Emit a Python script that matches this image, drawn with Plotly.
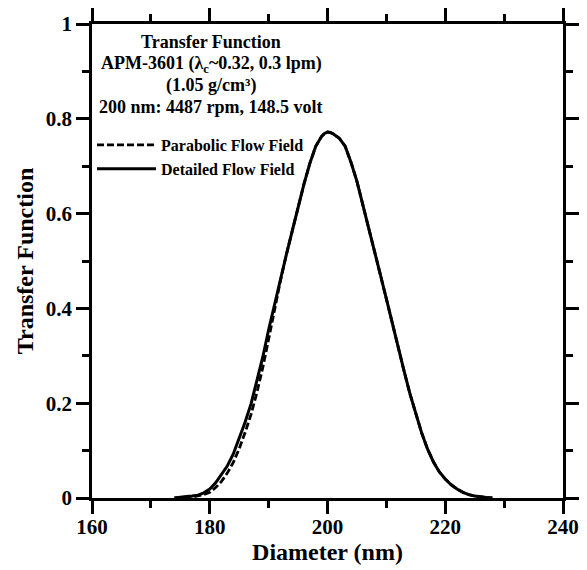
import plotly.graph_objects as go

# Diameter (nm)
diameter = [174, 175, 176, 177, 178, 179, 180, 181, 182, 183, 184, 185, 186, 187, 188,
            189, 190, 191, 192, 193, 194, 195, 196, 197, 198, 199, 199.5, 200, 200.5, 201,
            202, 203, 204, 205, 206, 207, 208, 209, 210, 211, 212, 213, 214, 215, 216,
            217, 218, 219, 220, 221, 222, 223, 224, 225, 226, 227, 228]

# Detailed flow field (solid)
detailed = [0.0, 0.002, 0.003, 0.004, 0.006, 0.011, 0.019, 0.032, 0.049, 0.068, 0.093,
            0.125, 0.160, 0.198, 0.245, 0.297, 0.355, 0.410, 0.462, 0.513, 0.563, 0.613,
            0.662, 0.706, 0.742, 0.763, 0.769, 0.772, 0.771, 0.768, 0.759, 0.742, 0.708,
            0.668, 0.620, 0.572, 0.522, 0.470, 0.420, 0.368, 0.318, 0.268, 0.220, 0.176,
            0.137, 0.103, 0.076, 0.055, 0.040, 0.028, 0.019, 0.012, 0.007, 0.004, 0.002,
            0.001, 0.0]

# Parabolic flow field (dashed)
parabolic = [0.0, 0.0, 0.001, 0.002, 0.004, 0.007, 0.012, 0.022, 0.035, 0.053, 0.075,
             0.104, 0.138, 0.176, 0.222, 0.275, 0.335, 0.398, 0.458, 0.513, 0.563, 0.613,
             0.662, 0.706, 0.742, 0.763, 0.769, 0.772, 0.771, 0.768, 0.759, 0.742, 0.708,
             0.668, 0.620, 0.572, 0.522, 0.470, 0.420, 0.368, 0.318, 0.268, 0.220, 0.176,
             0.137, 0.103, 0.076, 0.055, 0.040, 0.028, 0.019, 0.012, 0.007, 0.004, 0.002,
             0.001, 0.0]

x_ticks = [160, 180, 200, 220, 240]
y_ticks = [0, 0.2, 0.4, 0.6, 0.8, 1]
y_tick_labels = ["0", "0.2", "0.4", "0.6", "0.8", "1"]

info_lines = ["Transfer Function",
              "APM-3601 (λ<sub>c</sub>~0.32, 0.3 lpm)",
              "(1.05 g/cm³)",
              "200 nm: 4487 rpm, 148.5 volt"]

FONT = "Liberation Serif"

fig = go.Figure()
fig.add_trace(go.Scatter(x=diameter, y=parabolic, mode="lines",
                         name="<b>Parabolic Flow Field</b>",
                         line=dict(color="black", width=2.8, dash="7px,3px")))
fig.add_trace(go.Scatter(x=diameter, y=detailed, mode="lines",
                         name="<b>Detailed Flow Field</b>",
                         line=dict(color="black", width=3)))

for i, t in enumerate(info_lines):
    fig.add_annotation(text="<b>" + t + "</b>", x=0.253, y=0.961 - i * 0.0455,
                       xref="paper", yref="paper", xanchor="center", yanchor="middle",
                       showarrow=False, font=dict(family=FONT, size=18, color="black"))

axis_common = dict(
    showline=True, linecolor="black", linewidth=2.5, mirror="allticks",
    ticks="outside", ticklen=13, tickwidth=2.5, tickcolor="black",
    showgrid=False, zeroline=False, automargin=False,
    tickfont=dict(family=FONT, size=21, color="black"),
)

fig.update_xaxes(range=[160, 240], tickvals=x_ticks,
                 ticktext=["<b>%d</b>" % v for v in x_ticks],
                 ticklabelstandoff=-5,
                 minor=dict(dtick=10, ticklen=7, tickwidth=2.5, tickcolor="black", ticks="outside"),
                 title=dict(text="<b>Diameter (nm)</b>", font=dict(family=FONT, size=24, color="black"),
                            standoff=0),
                 **axis_common)
fig.update_yaxes(range=[0, 1], tickvals=y_ticks,
                 ticktext=["<b>%s</b>" % s for s in y_tick_labels],
                 minor=dict(dtick=0.1, ticklen=7, tickwidth=2.5, tickcolor="black", ticks="outside"),
                 title=dict(text="<b>Transfer Function</b>", font=dict(family=FONT, size=24, color="black"),
                            standoff=6),
                 **axis_common)

fig.update_layout(
    width=587, height=570,
    margin=dict(l=92, r=24, t=24, b=72),
    paper_bgcolor="white", plot_bgcolor="white",
    showlegend=True,
    legend=dict(x=0.0, y=0.7805, xanchor="left", yanchor="top",
                bgcolor="rgba(0,0,0,0)", borderwidth=0, itemwidth=59,
                font=dict(family=FONT, size=16, color="black"),
                tracegroupgap=0),
)

fig.write_html("out.html")
